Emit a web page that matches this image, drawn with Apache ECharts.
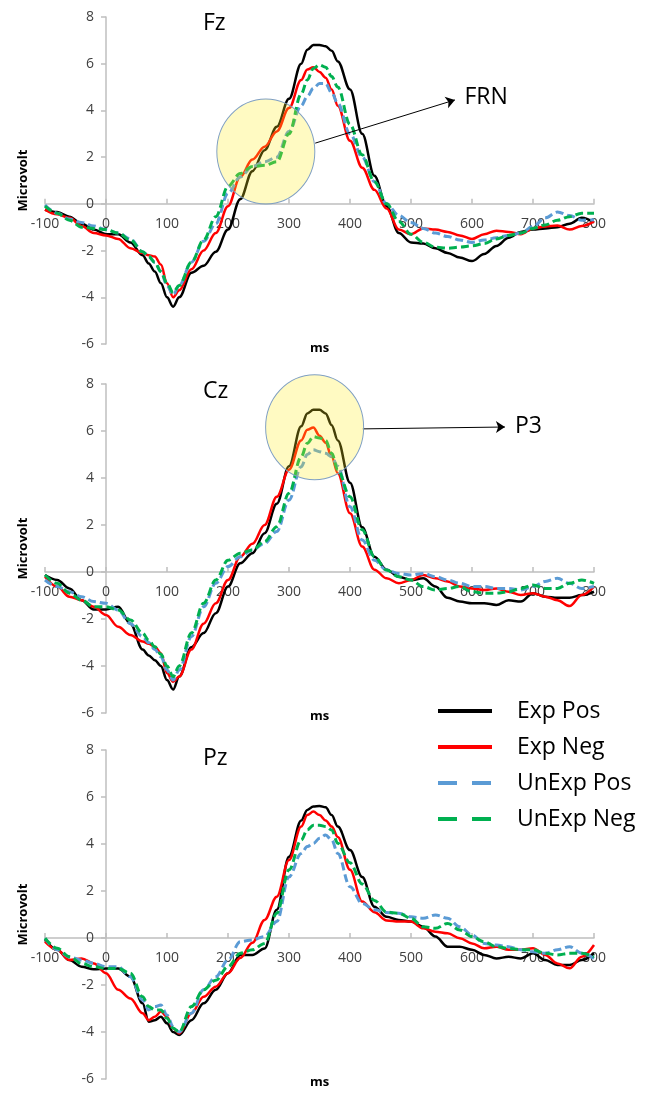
<!DOCTYPE html>
<html>
<head>
<meta charset="utf-8">
<script src="https://cdn.jsdelivr.net/npm/echarts@6/dist/echarts.min.js"></script>
<style>
html,body{margin:0;padding:0;background:#fff;}
#chart{width:657px;height:1094px;}
</style>
</head>
<body>
<div id="chart"></div>
<script>
// ---- data ----
const times = [-100,-80,-60,-40,-20,0,20,40,60,70,80,90,100,110,120,140,160,180,200,220,240,260,280,300,320,330,340,350,360,370,380,400,420,440,460,480,500,520,540,560,580,600,620,640,660,680,700,720,740,760,780,800];
const seriesNames = ['Exp Pos','Exp Neg','UnExp Pos','UnExp Neg'];
const panelNames = ['Fz','Cz','Pz'];
const xTicks = [-100,0,100,200,300,400,500,600,700,800];
const yTicks = [-6,-4,-2,0,2,4,6,8];

const fzExpPos = [-0.25,-0.35,-0.55,-0.85,-1.1,-1.3, -1.3,-1.65,-2.2, -2.55,-2.9,-3.4,-4.0,-4.4,-4.0, -2.95,-2.65,-2.05,-1.1,0.2,1.4,2.3,3.3,4.5,6.0, 6.6,6.8,6.8,6.75,6.55,6.1, 4.9,3.0,1.2,-0.1,-1.25,-1.65,-1.7,-1.9,-2.1,-2.3,-2.45,-2.15,-1.8,-1.45,-1.2,-1.1,-1.05,-1.0,-0.85,-0.6,-0.8];
const fzExpNeg = [-0.25,-0.45,-0.6,-0.95,-1.25,-1.35, -1.5,-1.9,-2.1, -2.2,-2.25,-2.6,-3.4,-4.0,-3.7, -2.8,-2.0,-1.25,-0.1,1.15,1.9,2.45,3.1,4.1,5.3, 5.75,5.85,5.65,5.4,4.9,4.2, 2.7,1.55,0.6,-0.2,-1.1,-1.3,-1.05,-1.1,-1.2,-1.35,-1.5,-1.3,-1.15,-1.2,-1.3,-1.05,-0.97,-0.93,-1.1,-0.95,-0.75];
const fzUnExpPos = [-0.05,-0.4,-0.65,-0.8,-0.95,-1.1, -1.25,-1.5,-2.05, -2.25,-2.5,-2.9,-3.5,-3.9,-3.5, -2.5,-1.6,-0.85,0.45,1.15,1.6,1.8,2.0,3.1,4.2, 4.6,4.95,5.15,5.15,4.75,4.3, 3.0,2.0,0.95,0.0,-0.5,-0.8,-1.05,-1.25,-1.4,-1.55,-1.65,-1.55,-1.45,-1.35,-1.25,-0.97,-0.6,-0.35,-0.5,-0.7,-0.68];
const fzUnExpNeg = [-0.1,-0.4,-0.7,-1.0,-1.05,-1.1, -1.25,-1.55,-2.05, -2.25,-2.5,-2.9,-3.4,-3.8,-3.5, -2.5,-1.55,-0.55,0.75,1.3,1.6,1.65,1.8,3.0,4.7, 5.3,5.8,5.95,5.85,5.45,5.0, 3.4,2.1,0.95,0.0,-0.75,-1.3,-1.65,-1.85,-1.9,-1.85,-1.8,-1.7,-1.5,-1.35,-1.25,-1.05,-0.9,-0.7,-0.55,-0.4,-0.4];

const czExpPos = [-0.13,-0.34,-0.7,-1.2,-1.6,-1.6, -1.48,-2.2,-3.3, -3.55,-3.75,-4.0,-4.6,-5.0,-4.45, -3.2,-2.6,-1.75,-0.62,0.37,0.8,1.65,2.9,4.5,6.2, 6.75,6.9,6.9,6.75,6.25,5.6, 3.8,1.9,0.65,0.1,-0.2,-0.34,-0.27,-0.62,-1.1,-1.26,-1.33,-1.33,-1.4,-1.2,-1.26,-0.9,-1.05,-1.1,-1.1,-0.98,-0.84];
const czExpNeg = [-0.2,-0.62,-1.05,-1.2,-1.48,-1.83, -2.33,-2.68,-2.96, -3.05,-3.18,-3.46,-4.3,-4.67,-4.45, -3.3,-2.2,-1.33,-0.34,0.65,1.2,2.0,3.2,4.35,5.6, 6.05,6.15,5.8,5.5,4.9,4.2, 2.5,1.08,0.1,-0.27,-0.48,-0.34,-0.13,-0.27,-0.4,-0.62,-0.7,-0.77,-0.7,-0.84,-0.98,-0.9,-1.05,-1.2,-1.45,-0.98,-0.62];
const czUnExpPos = [-0.34,-0.62,-0.84,-1.05,-1.26,-1.33, -1.62,-2.2,-2.75, -3.0,-3.3,-3.6,-4.17,-4.6,-4.17, -2.75,-1.48,-0.48,0.23,0.65,0.94,1.22,1.72,3.06,4.48, 5.0,5.2,5.12,5.05,4.9,4.5, 2.78,1.36,0.5,0.08,-0.06,-0.13,-0.06,-0.2,-0.34,-0.48,-0.62,-0.62,-0.7,-0.7,-0.77,-0.62,-0.4,-0.27,-0.48,-0.7,-0.62];
const czUnExpNeg = [-0.13,-0.48,-0.9,-1.2,-1.48,-1.48, -1.62,-2.04,-2.6, -2.9,-3.18,-3.5,-4.0,-4.45,-4.0, -2.6,-1.33,-0.34,0.5,0.8,0.94,1.3,1.93,3.35,4.9, 5.48,5.76,5.7,5.6,5.05,4.34, 3.2,1.8,0.65,0.08,-0.2,-0.34,-0.62,-0.77,-0.7,-0.62,-0.84,-0.9,-0.9,-0.84,-0.7,-0.55,-0.7,-0.7,-0.48,-0.34,-0.48];

const pzExpPos = [-0.08,-0.5,-0.94,-1.22,-1.33,-1.3, -1.3,-1.65,-2.78, -3.56,-3.5,-3.35,-3.63,-4.0,-4.13, -3.5,-2.78,-2.2,-1.5,-0.72,-0.72,-0.45,1.2,3.46,5.0, 5.45,5.6,5.62,5.56,5.23,4.74, 3.74,2.6,1.33,0.9,0.77,0.7,0.48,0.06,-0.37,-0.37,-0.5,-0.72,-0.87,-0.8,-0.87,-0.65,-0.94,-1.15,-1.15,-0.94,-0.65];
const pzExpNeg = [-0.15,-0.5,-0.94,-0.87,-1.08,-1.5, -2.2,-2.57,-3.2, -3.5,-3.35,-3.13,-3.35,-3.84,-4.06, -3.2,-2.5,-2.07,-1.5,-0.85,-0.2,0.77,1.76,3.32,4.74, 5.23,5.38,5.23,5.0,4.74,4.3, 2.9,1.55,1.1,0.75,0.7,0.7,0.41,0.27,0.2,-0.01,-0.23,-0.44,-0.37,-0.5,-0.5,-0.44,-0.72,-1.08,-1.29,-0.8,-0.3];
const pzUnExpPos = [-0.01,-0.5,-0.8,-0.94,-1.08,-1.22, -1.22,-1.65,-2.64, -3.06,-2.92,-2.85,-3.28,-3.77,-4.0, -3.2,-2.2,-1.65,-0.94,-0.16,-0.08,0.06,0.7,2.6,3.6, 3.89,4.03,4.24,4.38,4.17,3.6, 2.18,1.47,1.2,1.08,1.05,0.9,0.84,0.98,0.84,0.48,0.13,-0.23,-0.3,-0.37,-0.5,-0.58,-0.65,-0.5,-0.37,-0.65,-0.87];
const pzUnExpNeg = [-0.01,-0.44,-0.8,-1.08,-1.22,-1.3, -1.3,-1.5,-2.5, -2.92,-3.06,-3.06,-3.42,-3.84,-4.0, -2.92,-2.2,-1.8,-1.22,-0.65,-0.5,-0.23,1.05,2.9,4.17, 4.6,4.8,4.8,4.74,4.6,4.03, 3.2,2.3,1.6,1.1,1.05,0.84,0.48,0.41,0.62,0.34,0.06,-0.16,-0.37,-0.44,-0.5,-0.5,-0.65,-0.72,-0.65,-0.65,-0.8];

const panelData = [
  [fzExpPos, fzExpNeg, fzUnExpPos, fzUnExpNeg],
  [czExpPos, czExpNeg, czUnExpPos, czUnExpNeg],
  [pzExpPos, pzExpNeg, pzUnExpPos, pzUnExpNeg]
];

// annotation anchors (data space): circle centre, arrow start, arrow end
const frnCircle = [262, 2.24];
const frnArrow = [[343, 2.6], [572, 4.45]];
const p3Circle = [342, 6.16];
const p3Arrow = [[421, 6.09], [654, 6.17]];

// ---- styles ----
const FONT = '"Open Sans", "Noto Sans", sans-serif';
const colors = ['#000000', '#ff0000', '#5b9bd5', '#00b050'];
const dashed = [false, false, true, true];
const grids = [
  {left: 45, width: 549, top: 17, height: 327, containLabel: false, outerBoundsMode: 'none'},
  {left: 45, width: 549, top: 384, height: 329, containLabel: false, outerBoundsMode: 'none'},
  {left: 45, width: 549, top: 750, height: 329, containLabel: false, outerBoundsMode: 'none'}
];
const titleTops = [12, 380, 747];
const axisColor = '#bfbfbf';
const xMin = xTicks[0], xMax = xTicks[xTicks.length - 1];
const yMin = yTicks[0], yMax = yTicks[yTicks.length - 1];

const option = {
  animation: false,
  backgroundColor: '#ffffff',
  title: panelNames.map((n, i) => ({
    text: n, left: 203, top: titleTops[i], padding: 0,
    textStyle: {fontFamily: FONT, fontSize: 23, fontWeight: 'normal', color: '#000'}
  })),
  legend: {
    orient: 'vertical', left: 436, top: 698, padding: 0,
    itemWidth: 54, itemHeight: 14, itemGap: 10,
    data: seriesNames.map((n, i) => ({
      name: n,
      itemStyle: {opacity: 0},
      lineStyle: {width: 4, type: dashed[i] ? [19, 15] : 'solid', color: colors[i], opacity: 1}
    })),
    textStyle: {fontFamily: FONT, fontSize: 23, color: '#000', lineHeight: 26, padding: [0, 0, 0, 20]}
  },
  grid: grids,
  // both axes cross at the zero of the other: the y axis is shifted to x = 0,
  // the x axis to y = 0 (offset measured from the grid edge)
  xAxis: grids.map((g, i) => ({
    type: 'value', gridIndex: i, min: xMin, max: xMax, interval: 100,
    position: 'bottom', offset: -g.height * (0 - yMin) / (yMax - yMin),
    axisLine: {onZero: false, lineStyle: {color: axisColor, width: 1.5}},
    axisTick: {show: true, inside: true, length: 5, lineStyle: {color: axisColor, width: 1.5}},
    axisLabel: {fontFamily: FONT, fontSize: 14, color: '#404040', margin: 13},
    splitLine: {show: false},
    name: 'ms', nameLocation: 'middle', nameGap: 138,
    nameTextStyle: {fontFamily: FONT, fontSize: 13, fontWeight: 'bold', color: '#000'}
  })),
  yAxis: grids.map((g, i) => ({
    type: 'value', gridIndex: i, min: yMin, max: yMax, interval: 2,
    position: 'left', offset: -g.width * (0 - xMin) / (xMax - xMin),
    axisLine: {onZero: false, lineStyle: {color: axisColor, width: 1.5}},
    axisTick: {show: true, inside: false, length: 5, lineStyle: {color: axisColor, width: 1.5}},
    axisLabel: {fontFamily: FONT, fontSize: 14, color: '#404040', margin: 12},
    splitLine: {show: false},
    name: 'Microvolt', nameLocation: 'middle', nameRotate: 90, nameGap: 76,
    nameTextStyle: {fontFamily: FONT, fontSize: 13, fontWeight: 'bold', color: '#000'}
  })),
  series: []
};

panelData.forEach((arrs, p) => {
  arrs.forEach((vals, s) => {
    option.series.push({
      type: 'line', name: seriesNames[s], xAxisIndex: p, yAxisIndex: p,
      data: times.map((t, k) => [t, vals[k]]),
      symbol: 'none', showSymbol: false, smooth: 0.35, smoothMonotone: 'x',
      lineStyle: {color: colors[s], width: dashed[s] ? 3 : 2.5, type: dashed[s] ? [8, 4] : 'solid', cap: 'butt'},
      itemStyle: {color: colors[s]},
      z: 2 + s * 0.01
    });
  });
});

function annotation(panel, centre, arrow, label) {
  return {
    type: 'scatter', xAxisIndex: panel, yAxisIndex: panel, silent: true, z: 5,
    data: [centre], symbol: 'circle', symbolSize: [98, 105],
    itemStyle: {color: 'rgba(255,238,30,0.27)', borderColor: '#7f9fc2', borderWidth: 1, opacity: 1},
    markLine: {
      silent: true, symbol: ['none', 'arrow'], symbolSize: 9,
      lineStyle: {color: '#000', width: 1, type: 'solid'},
      label: {show: true, position: 'end', formatter: label, distance: 10,
              fontFamily: FONT, fontSize: 23, color: '#000'},
      data: [[{coord: arrow[0]}, {coord: arrow[1]}]]
    }
  };
}
option.series.push(annotation(0, frnCircle, frnArrow, 'FRN'));
option.series.push(annotation(1, p3Circle, p3Arrow, 'P3'));

const chart = echarts.init(document.getElementById('chart'), null, {renderer: 'canvas'});
chart.setOption(option);
</script>
</body>
</html>
